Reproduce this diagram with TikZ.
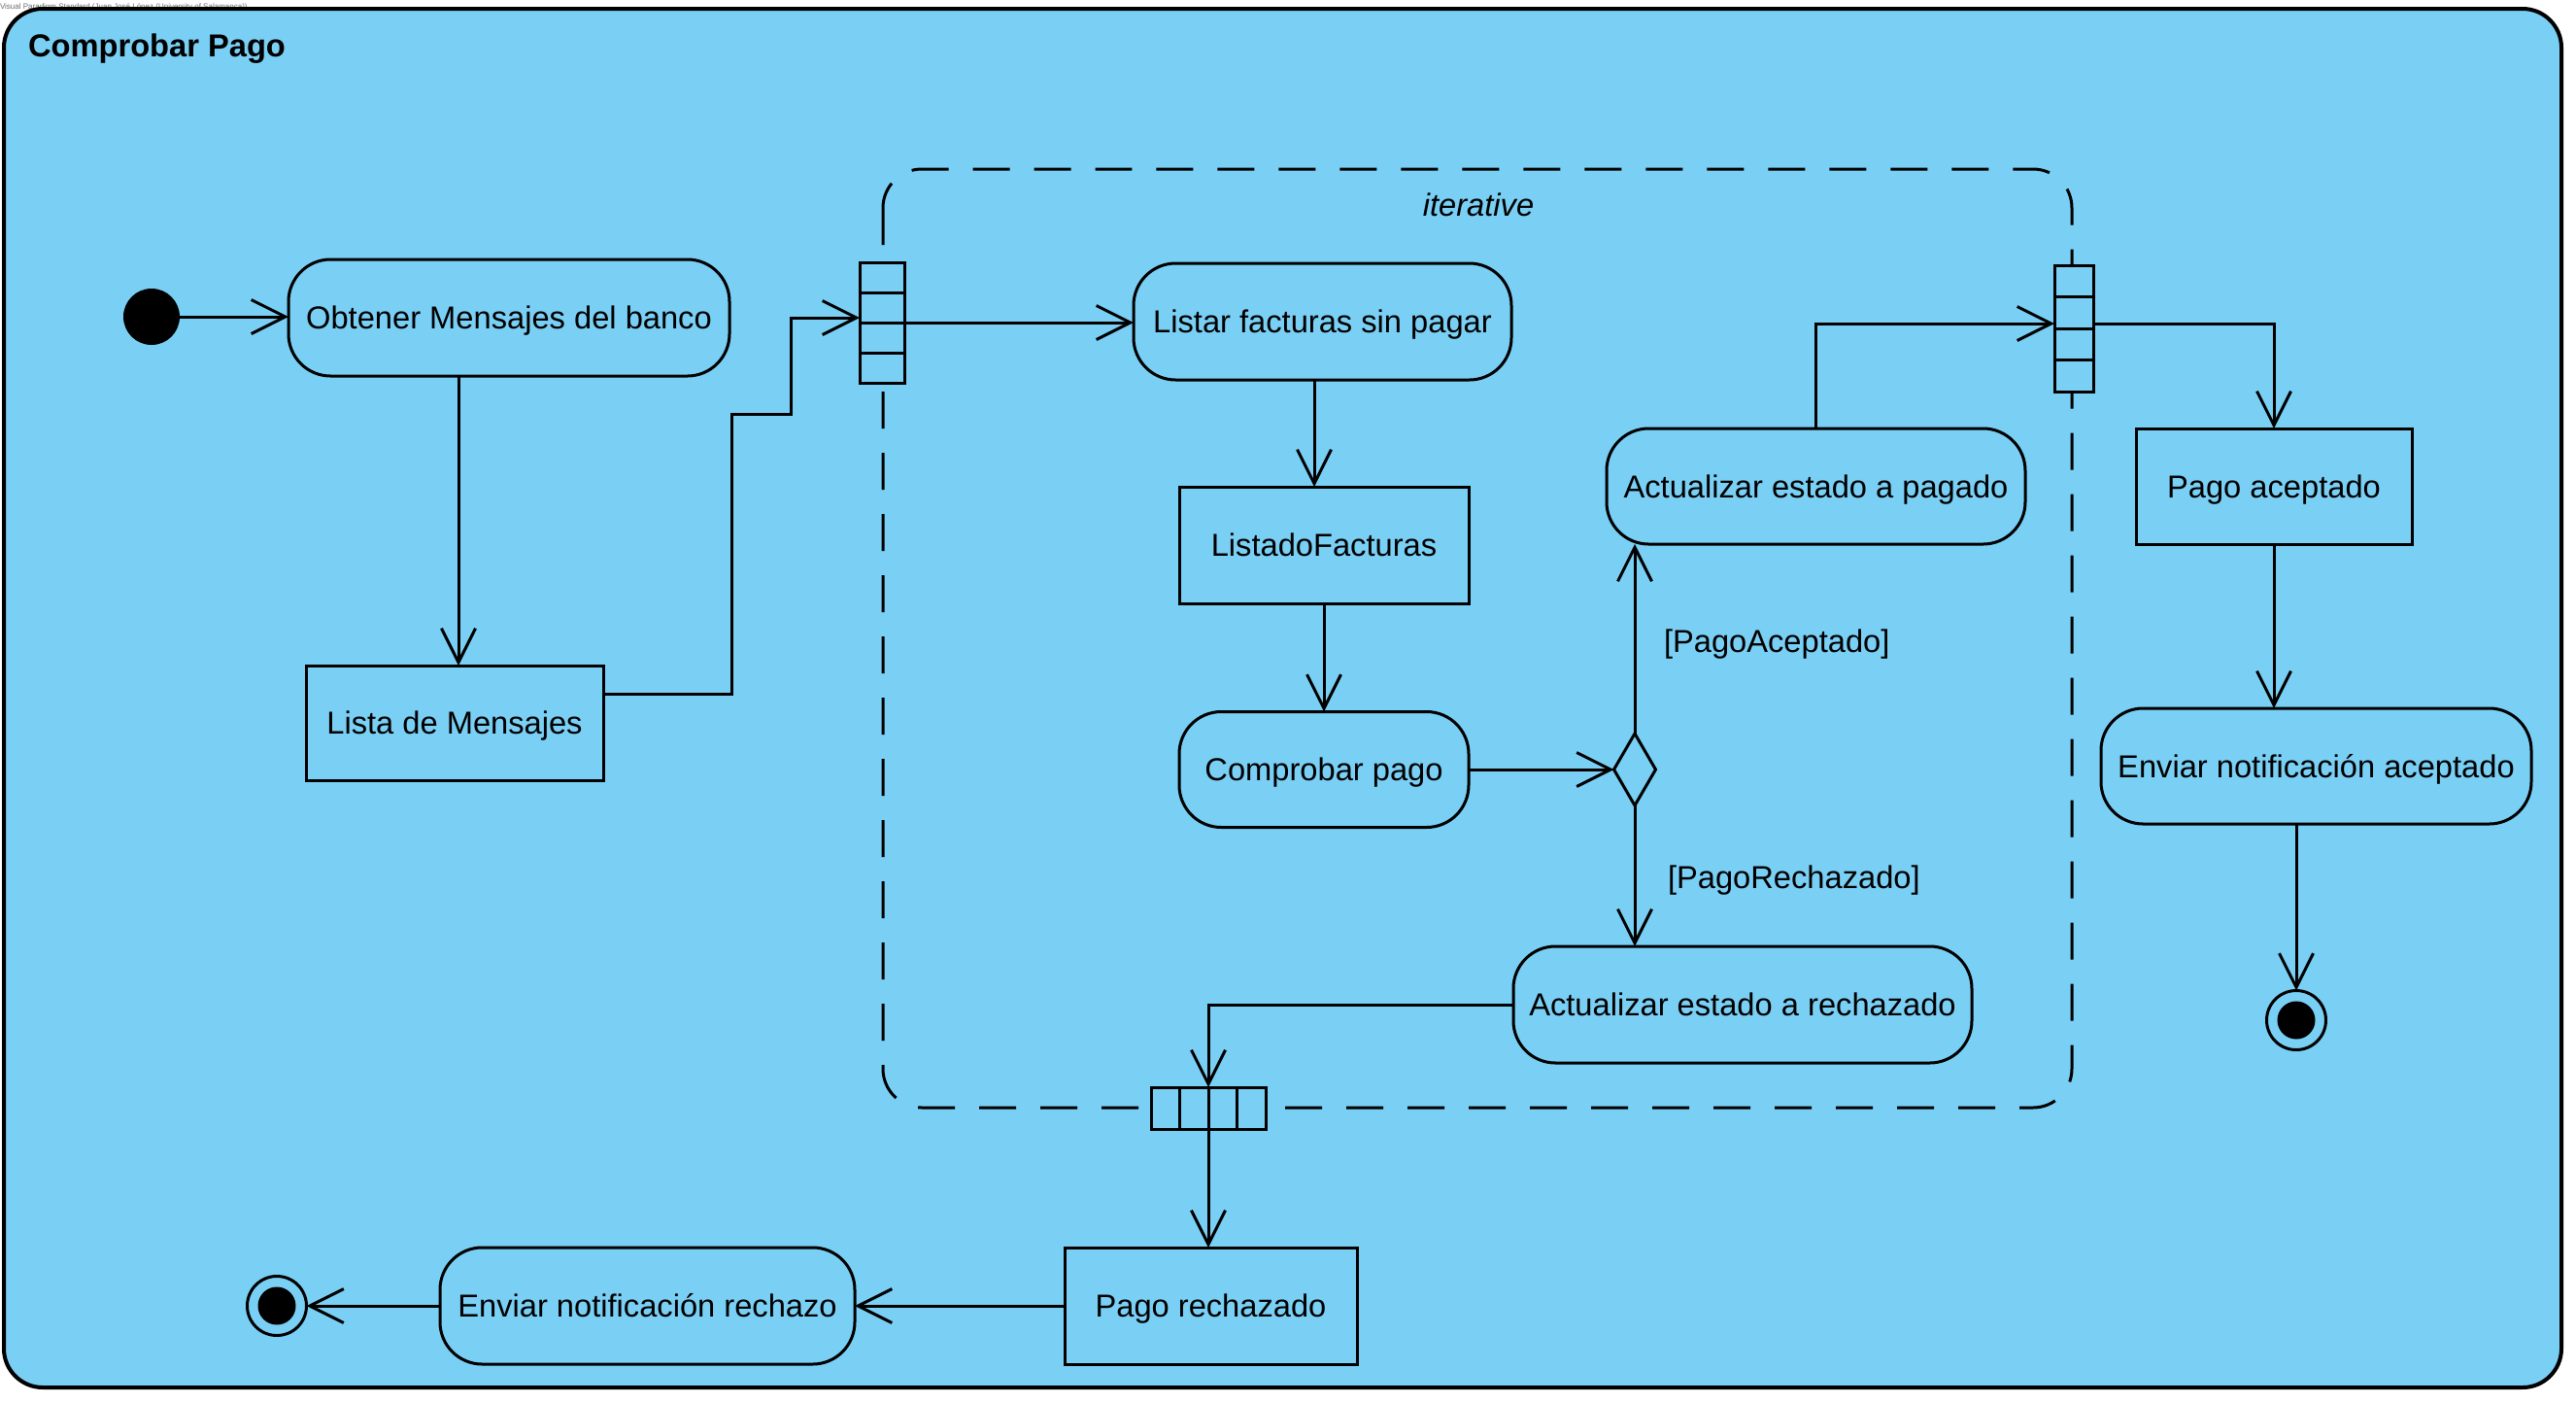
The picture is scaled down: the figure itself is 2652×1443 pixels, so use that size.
\documentclass[tikz,border=0pt]{standalone}
\usepackage{fontspec}
\setmainfont{Liberation Sans}
\usetikzlibrary{arrows.meta,shapes.geometric}
\definecolor{actfill}{RGB}{122,207,245}
\definecolor{hdrgray}{RGB}{110,110,110}
\begin{document}
\begin{tikzpicture}[x=0.3pt,y=-0.3pt,
  every node/.style={font=\fontsize{9.8}{11}\selectfont, inner sep=0pt, outer sep=0pt,
    text height=7pt, text depth=0pt},
  ln/.style={line width=0.9pt},
  arr/.style={ln, -{Straight Barb[length=10.5pt,width=10.5pt,line width=0.9pt]}},
  action/.style 2 args={draw, line width=0.9pt, fill=actfill, rounded corners=13pt,
    minimum width=#1*0.3pt, minimum height=#2*0.3pt},
  object/.style 2 args={draw, line width=0.9pt, fill=actfill,
    minimum width=#1*0.3pt, minimum height=#2*0.3pt},
  pinbox/.style 2 args={draw, line width=0.9pt, fill=actfill,
    minimum width=#1*0.3pt, minimum height=#2*0.3pt},
  decision/.style={draw, diamond, line width=0.9pt, fill=actfill,
    minimum width=43*0.3pt, minimum height=74*0.3pt},
  finalnode/.style={draw, circle, line width=0.9pt, fill=actfill, minimum size=61*0.3pt},
  guard/.style={anchor=west},
]
\useasboundingbox (0,0) rectangle (2652,1443);

% header line and activity frame
\node[anchor=west, font=\fontsize{2.4}{2.7}\selectfont, text=hdrgray, text height=1.7pt]
  (hdr) at (0,7) {Visual Paradigm Standard (Juan José López (University of Salamanca))};
\draw[line width=1.2pt, fill=actfill, rounded corners=12pt] (4,9) rectangle (2637,1428);
\node[anchor=west, font=\bfseries\fontsize{9.8}{11}\selectfont] (title) at (29,47) {Comprobar Pago};

% iterative expansion region
\draw[ln, dash pattern=on 11.4pt off 7.5pt, rounded corners=12pt] (909,174) rectangle (2133,1140);
\node[font=\itshape\fontsize{9.8}{11}\selectfont] (iter) at (1522,211) {iterative};

% nodes
\node[circle, fill=black, minimum size=58*0.3pt] (init) at (156,326) {};
\node[action={454}{120}] (obt) at (524,327) {Obtener Mensajes del banco};
\node[object={306}{118}] (lista) at (468,744) {Lista de Mensajes};

\node[pinbox={46}{124}] (lpin) at (908,332) {};
\node[pinbox={40}{130}] (rpin) at (2135,338) {};
\node[pinbox={118}{43}] (bpin) at (1244,1140.5) {};

\node[action={389}{120}] (listar) at (1361.5,331) {Listar facturas sin pagar};
\node[object={298}{120}] (listado) at (1363,561) {ListadoFacturas};
\node[action={298}{119}] (comp) at (1363,792) {Comprobar pago};
\node[decision] (dec) at (1683,792) {};
\node[action={431}{119}] (actpag) at (1869.5,500.5) {Actualizar estado a pagado};
\node[action={472}{120}] (actrech) at (1794,1034) {Actualizar estado a rechazado};

\node[object={284}{119}] (pacep) at (2341,500.5) {Pago aceptado};
\node[action={443}{119}] (envacep) at (2384.5,788.5) {Enviar notificación aceptado};
\node[finalnode] (fr) at (2364,1050) {};
\fill (fr.center) circle[radius=19.5];

\node[object={301}{120}] (prech) at (1246.5,1344) {Pago rechazado};
\node[action={427}{120}] (envrech) at (666.5,1344) {Enviar notificación rechazo};
\node[finalnode] (fl) at (285,1344) {};
\fill (fl.center) circle[radius=19.5];

% pin compartments
\foreach \k in {1,2,3} {
  \draw[ln] ([yshift=-\k*31*0.3pt]lpin.north west) -- ([yshift=-\k*31*0.3pt]lpin.north east);
  \draw[ln] ([yshift=-\k*32.5*0.3pt]rpin.north west) -- ([yshift=-\k*32.5*0.3pt]rpin.north east);
  \draw[ln] ([xshift=\k*29.5*0.3pt]bpin.north west) -- ([xshift=\k*29.5*0.3pt]bpin.south west);
}

% guards
\node[guard] (gacep) at (1713,660) {[PagoAceptado]};
\node[guard] (grech) at (1717,903) {[PagoRechazado]};

% helper coordinates
\coordinate (xa) at (472,0);
\coordinate (xb) at (1353,0);
\coordinate (ya) at (0,714);

% connectors
\draw[arr] (init.east) -- (init.east -| obt.west);
\draw[arr] (obt.south -| xa) -- (lista.north -| xa);
\draw[arr] (lista.east |- ya) -- ++(132,0) -- ++(0,-288) -- ++(61,0) |- ([yshift=1.5pt]lpin.west);
\draw[arr] (lpin.east) -- (lpin.east -| listar.west);
\draw[arr] (listar.south -| xb) -- (listado.north -| xb);
\draw[arr] (listado.south) -- (comp.north);
\draw[arr] (comp.east) -- (dec.west);
\draw[arr] (dec.north) -- (dec.north |- actpag.south);
\draw[arr] (dec.south) -- (dec.south |- actrech.north);
\draw[arr] (actpag.north) |- ([yshift=1.5pt]rpin.west);
\draw[arr] ([yshift=1.5pt]rpin.east) -| (pacep.north);
\draw[arr] (pacep.south) -- (pacep.south |- envacep.north);
\draw[arr] (fr.north |- envacep.south) -- (fr.north);
\draw[arr] (actrech.west) -| (bpin.north);
\draw[arr] (bpin.south) -- (bpin.south |- prech.north);
\draw[arr] (prech.west) -- (envrech.east);
\draw[arr] (envrech.west) -- (fl.east);
\end{tikzpicture}
\end{document}
